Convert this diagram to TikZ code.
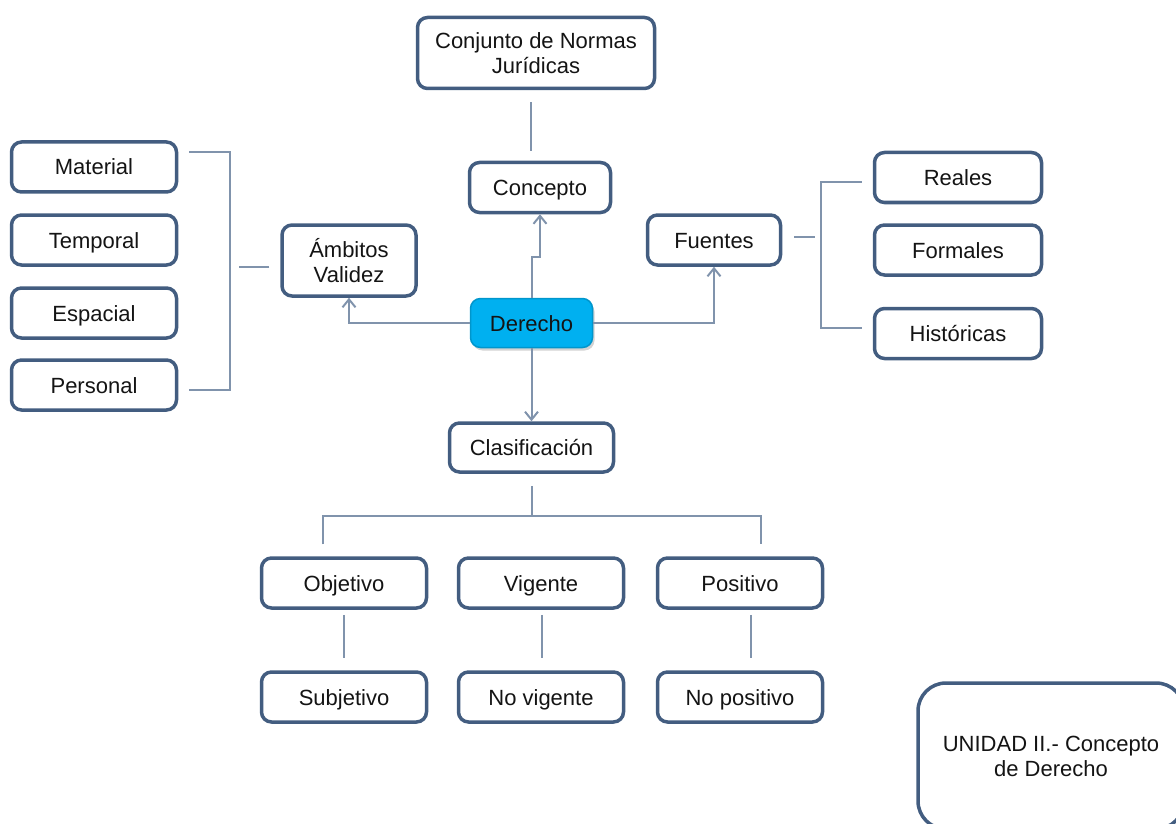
\documentclass[tikz,border=0pt]{standalone}
\usepackage{fontspec}
\setmainfont{Liberation Sans}
\usetikzlibrary{arrows.meta}
\usetikzlibrary{shadows}

\definecolor{marco}{RGB}{67,93,128}
\definecolor{linea}{RGB}{128,147,172}
\definecolor{celeste}{RGB}{0,176,240}
\definecolor{tinta}{RGB}{20,20,20}

\begin{document}
\begin{tikzpicture}[x=1pt, y=-1pt,
        caja/.style={rectangle, draw=marco, line width=3.5pt, rounded corners=10pt, fill=white,
            minimum width=165pt, minimum height=50pt, inner sep=2pt, align=center, text=tinta,
            text height=18pt, text depth=2pt, font=\fontsize{22}{25}\selectfont},
        doble/.style={caja, text height=, text depth=},
        central/.style={caja, draw=celeste!85!black, line width=1.5pt, fill=celeste,
            drop shadow={opacity=0.35, shadow xshift=2pt, shadow yshift=-3pt}},
        enlace/.style={draw=linea, line width=2pt},
        flecha/.style={enlace, -{Straight Barb[length=8pt, width=13pt]}}]
        \clip (0, 0) rectangle (1176, 824);

        \node[doble, minimum width=237pt, minimum height=71pt] (conjunto) at (536, 53) {Conjunto de Normas\\Jurídicas};
        \node[caja, minimum width=141pt] (concepto) at (540, 187.5) {Concepto};
        \node[doble, minimum width=134pt, minimum height=71pt] (ambitos) at (349, 260.5) {Ámbitos\\Validez};
        \node[caja, minimum width=133pt] (fuentes) at (714, 240) {Fuentes};
        \node[central, minimum width=122pt, minimum height=49pt] (derecho) at (531.5, 323) {Derecho};
        \node[caja, minimum width=164pt, minimum height=49pt] (clasif) at (531.5, 447.5) {Clasificación};

        \node[caja] (material) at (94, 167) {Material};
        \node[caja] (temporal) at (94, 240) {Temporal};
        \node[caja] (espacial) at (94, 313) {Espacial};
        \node[caja] (personal) at (94, 385) {Personal};

        \node[caja, minimum width=167pt] (reales) at (958, 177.5) {Reales};
        \node[caja, minimum width=167pt] (formales) at (958, 250) {Formales};
        \node[caja, minimum width=167pt] (historicas) at (958, 333.5) {Históricas};

        \node[caja] (objetivo) at (344, 583) {Objetivo};
        \node[caja] (vigente) at (541, 583) {Vigente};
        \node[caja] (positivo) at (740, 583) {Positivo};
        \node[caja] (subjetivo) at (344, 697) {Subjetivo};
        \node[caja] (novigente) at (541, 697) {No vigente};
        \node[caja] (nopositivo) at (740, 697) {No positivo};

        \node[doble, rounded corners=28pt, minimum width=266pt, minimum height=146pt] (titulo) at (1051, 756) {UNIDAD II.- Concepto\\de Derecho};

        \draw[enlace] (conjunto.south) ++(-5, 12) -- ([shift={(-9, -10)}]concepto.north);

        \draw[flecha] (derecho.north) -- ++(0, -41) -| (concepto.south);
        \draw[flecha] (derecho.west) -| (ambitos.south);
        \draw[flecha] (derecho.east) -| (fuentes.south);
        \draw[flecha] (derecho.south) -- (clasif.north);

        \draw[enlace] (material.east) ++(11, -15) -- ++(41, 0) |- ([shift={(11, 5)}]personal.east);
        \draw[enlace] (ambitos.west) ++(-11, 6) -- ++(-30, 0);

        \draw[enlace] (fuentes.east) ++(12, -3) -- ++(21, 0);
        \draw[enlace] (reales.west) ++(-11, 4.5) -- ++(-41, 0) |- ([shift={(-11, -5.5)}]historicas.west);

        \draw[enlace] (clasif.south) ++(0.5, 12) -- ++(0, 30) coordinate (rama);
        \draw[enlace] (objetivo.north) ++(-21, -12) |- (rama) -| ([shift={(21, -12)}]positivo.north);
        \draw[enlace] (objetivo.south) ++(0, 5) -- ([shift={(0, -12)}]subjetivo.north);
        \draw[enlace] (vigente.south) ++(1, 5) -- ([shift={(1, -12)}]novigente.north);
        \draw[enlace] (positivo.south) ++(11, 5) -- ([shift={(11, -12)}]nopositivo.north);
    \end{tikzpicture}
\end{document}
